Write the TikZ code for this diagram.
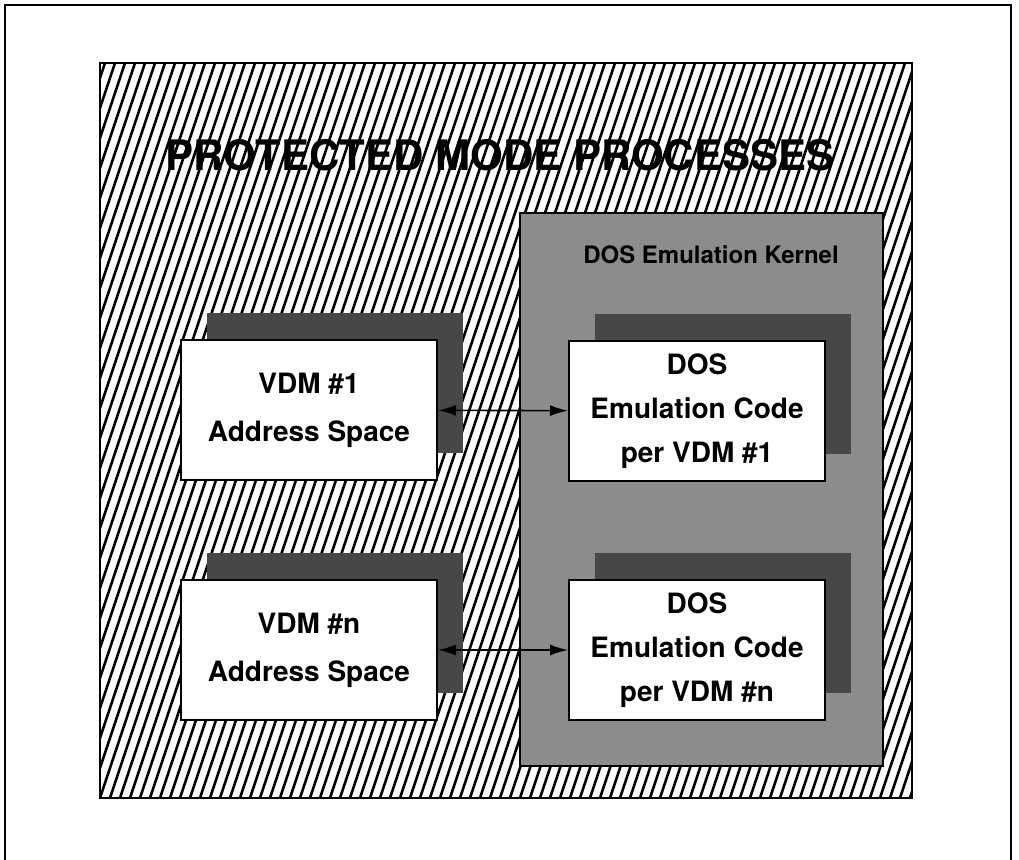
\documentclass[tikz,border=0pt]{standalone}
\usepackage{fontspec}
\setmainfont{TeX Gyre Heros}
\usepackage{tikz}
\usetikzlibrary{arrows.meta, positioning, shadows}
\definecolor{kernelgray}{gray}{0.55}
\definecolor{shadowgray}{gray}{0.28}

\begin{document}
\begin{tikzpicture}[x=0.5pt, y=-0.5pt,
    hatch/.style={line width=1.3pt, black},
    vdmbox/.style={draw=black, line width=1pt, fill=white, minimum width=128pt, minimum height=70pt,
        inner sep=0pt, align=center, font=\bfseries\fontsize{14}{24}\selectfont,
        drop shadow={shadow xshift=13pt, shadow yshift=13.5pt, fill=shadowgray, opacity=1}},
    dosbox/.style={vdmbox, font=\bfseries\fontsize{14}{22}\selectfont},
    link/.style={{Latex[length=9pt,width=5.5pt]}-{Latex[length=9pt,width=5.5pt]}, line width=0.8pt}]
    \useasboundingbox (0,0) rectangle (1019,860);

    % Page frame (open at the bottom)
    \draw[line width=1pt] (5,860) -- (5,5) -- (1011,5) -- (1011,860);

    % Hatched panel
    \begin{scope}
        \clip (100,63) rectangle (912,798);
        \fill[white] (100,63) rectangle (912,798);
        \foreach \x in {-250,-240,...,912}
            \draw[hatch] (\x,798) -- ++(245,-735);
    \end{scope}
    \draw[line width=1.2pt] (100,63) rectangle (912,798);

    % Title
    \node[font=\bfseries\fontsize{21}{25}\selectfont] (title) at (500,155) {PROTECTED MODE PROCESSES};

    % DOS emulation kernel
    \draw[line width=1.2pt, fill=kernelgray] (520,213) rectangle (883,766);
    \node[font=\bfseries\fontsize{12}{14}\selectfont] (kernellabel) at (711,255) {DOS Emulation Kernel};

    % Address spaces
    \node[vdmbox] (vdmone) at (309,410) {VDM \#1\\Address Space};
    \node[vdmbox] (vdmn) at (309,650) {VDM \#n\\Address Space};

    % Emulation code
    \node[dosbox] (dosone) at (697,411) {DOS\\Emulation Code\\per VDM \#1};
    \node[dosbox] (dosn) at (697,650) {DOS\\Emulation Code\\per VDM \#n};

    % Links
    \draw[link] (vdmone) -- (dosone);
    \draw[link] (vdmn) -- (dosn);
\end{tikzpicture}
\end{document}
